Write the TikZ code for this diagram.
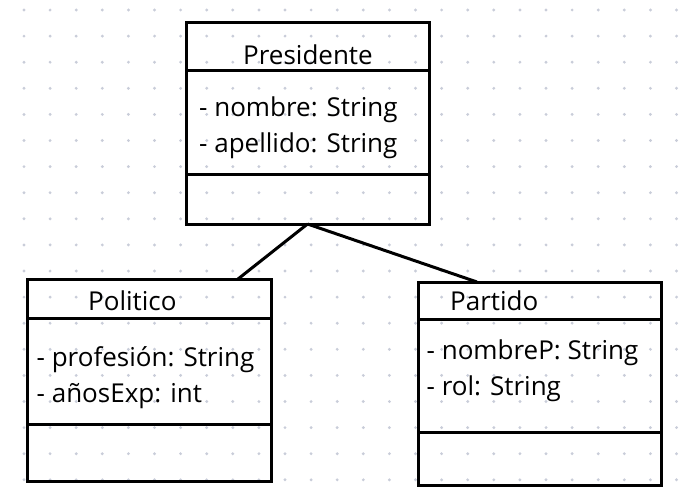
\documentclass[tikz,border=0pt]{standalone}
\usepackage{fontspec}
\setmainfont{Open Sans}
\usepackage{xcolor}
\usepackage{tikz}
\usetikzlibrary{positioning}

\definecolor{griddot}{HTML}{C9CDD9}

\begin{document}
\begin{tikzpicture}[
    x=1pt, y=-1pt,
    node distance=0pt,
    compart/.style={rectangle, draw, line width=3pt, inner sep=0pt, outer sep=0pt},
    label/.style={anchor=base west, inner sep=0pt, align=left,
                  font=\fontsize{26}{36}\selectfont},
    assoc/.style={line width=3pt}
]
    \useasboundingbox (0,0) rectangle (687,490);

    % Grid
    \foreach \i in {-1,...,25}
        \foreach \j in {0,...,18}
            \fill[griddot] (24+26.1*\i, 10+26.1*\j) circle (1.6pt);

    % Presidente
    \node[compart, anchor=north west, minimum width=243pt, minimum height=47.5pt] (prestitle) at (186,22.5) {};
    \node[compart, below=of prestitle, minimum width=243pt, minimum height=104pt] (presattr) {};
    \node[compart, below=of presattr, minimum width=243pt, minimum height=50pt] (presmeth) {};
    \node[label] (presname) at (243,64) {Presidente};
    \node[label] (presfields) at (199,152.5) {- nombre: String\\- apellido: String};

    % Politico
    \node[compart, anchor=north west, minimum width=244pt, minimum height=39pt] (poltitle) at (27.5,279) {};
    \node[compart, below=of poltitle, minimum width=244pt, minimum height=106pt] (polattr) {};
    \node[compart, below=of polattr, minimum width=244pt, minimum height=57pt] (polmeth) {};
    \node[label] (polname) at (88,310.5) {Politico};
    \node[label] (polfields) at (36.5,402.5) {- profesión: String\\- añosExp: int};

    % Partido
    \node[compart, anchor=north west, minimum width=243pt, minimum height=37pt] (partitle) at (418.5,282) {};
    \node[compart, below=of partitle, minimum width=243pt, minimum height=113pt] (parattr) {};
    \node[compart, below=of parattr, minimum width=243pt, minimum height=53pt] (parmeth) {};
    \node[label] (parname) at (450,310.5) {Partido};
    \node[label] (parfields) at (426.5,395.5) {- nombreP: String\\- rol: String};

    % Associations
    \coordinate (polend) at ([xshift=210.5pt]poltitle.north west);
    \coordinate (parend) at ([xshift=58.5pt]partitle.north west);
    \draw[assoc] (presmeth.south) -- (polend);
    \draw[assoc] (presmeth.south) -- (parend);
\end{tikzpicture}
\end{document}
